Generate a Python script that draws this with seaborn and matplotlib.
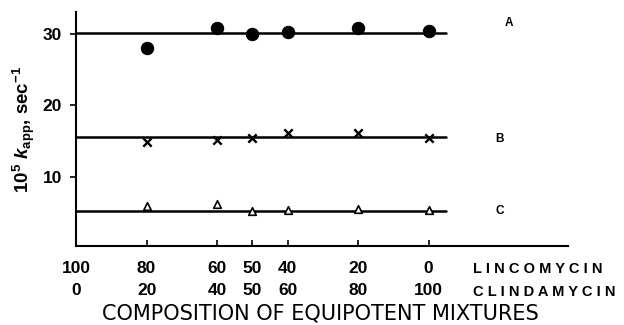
import matplotlib
matplotlib.use("Agg")
import matplotlib.pyplot as plt
import seaborn as sns
import pandas as pd

# ---- data ----
clindamycin_pct = [20, 40, 50, 60, 80, 100]
series_A = [28.0, 30.8, 30.0, 30.3, 30.9, 30.4]   # circles
series_B = [14.9, 15.1, 15.4, 16.1, 16.1, 15.4]   # crosses
series_C = [5.9, 6.2, 5.2, 5.4, 5.5, 5.4]         # open triangles
fit_levels = {"A": 30.1, "B": 15.6, "C": 5.2}
fit_span = [0, 105]
tick_pos = [0, 20, 40, 50, 60, 80, 100]
lincomycin_labels = ["100", "80", "60", "50", "40", "20", "0"]
clindamycin_labels = ["0", "20", "40", "50", "60", "80", "100"]
y_ticks = [10, 20, 30]

sns.set_style("ticks")
plt.rcParams["font.family"] = ["Liberation Sans", "DejaVu Sans"]
plt.rcParams["mathtext.fontset"] = "custom"
plt.rcParams["mathtext.rm"] = "Liberation Sans:bold"
plt.rcParams["mathtext.it"] = "Liberation Sans:italic:bold"
plt.rcParams["mathtext.bf"] = "Liberation Sans:bold"
for k in ("text.color", "axes.labelcolor", "xtick.color", "ytick.color"):
    plt.rcParams[k] = "black"

fig = plt.figure(figsize=(6.24, 3.25), dpi=100)
ax = fig.add_axes([0.122, 0.243, 0.788, 0.72])

# fitted horizontal lines
for key, lvl in fit_levels.items():
    d = pd.DataFrame({"x": fit_span, "y": [lvl, lvl]})
    sns.lineplot(data=d, x="x", y="y", ax=ax, color="black", linewidth=1.8)

pts = pd.DataFrame({"x": clindamycin_pct, "A": series_A, "B": series_B, "C": series_C})
sns.scatterplot(data=pts, x="x", y="A", ax=ax, marker="o", s=80, color="black",
                edgecolor="black", zorder=3)
sns.scatterplot(data=pts, x="x", y="B", ax=ax, marker="x", s=36, color="black",
                linewidth=1.7, zorder=3)
sns.scatterplot(data=pts, x="x", y="C", ax=ax, marker="^", s=30, facecolor="white",
                edgecolor="black", linewidth=1.2, zorder=3)

# series labels
label_pos = {"A": (122.7, 31.6), "B": (120.2, 15.3), "C": (120.2, 5.2)}
for key, (lx, ly) in label_pos.items():
    ax.text(lx, ly, key, fontsize=8.5, fontweight="bold", ha="center", va="center")

ax.set_xlim(0, 139.5)
ax.set_ylim(0.3, 33.1)
ax.set_yticks(y_ticks)
ax.set_yticklabels([str(v) for v in y_ticks], fontsize=12.5, fontweight="bold")
ax.set_xticks(tick_pos)
ax.set_xticklabels([f"{a}\n{b}" for a, b in zip(lincomycin_labels, clindamycin_labels)],
                   fontsize=12.5, fontweight="bold", linespacing=1.55)
ax.tick_params(axis="x", direction="in", length=4, width=1.2, pad=11)
ax.tick_params(axis="y", direction="out", length=4, width=1.2, pad=6)

sns.despine(ax=ax)
for sp in ("left", "bottom"):
    ax.spines[sp].set_linewidth(1.5)
    ax.spines[sp].set_color("black")

ax.set_ylabel(r"$10^5\ k_{\rm app}$, sec$^{-1}$", fontsize=13.5, fontweight="bold", labelpad=4)
ax.set_xlabel("COMPOSITION OF EQUIPOTENT MIXTURES", fontsize=15,
              family=["DejaVu Sans"], va="center")
ax.xaxis.set_label_coords(0.497, -0.29)

fig.text(473 / 624, 1 - 269 / 325, "L I N C O M Y C I N", fontsize=10.5, fontweight="bold",
         ha="left", va="center")
fig.text(473 / 624, 1 - 292 / 325, "C L I N D A M Y C I N", fontsize=10.5, fontweight="bold",
         ha="left", va="center")

fig.savefig("out.png", dpi=100)
